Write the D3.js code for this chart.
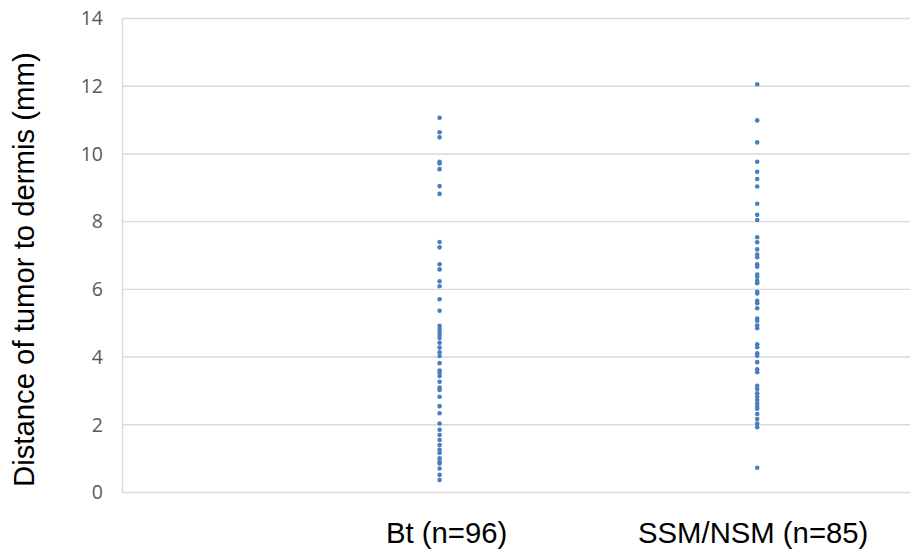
<!DOCTYPE html>
<html>
<head>
<meta charset="utf-8">
<script src="https://cdn.jsdelivr.net/npm/d3@7"></script>
<style>
  body { margin: 0; background: #fff; }
</style>
</head>
<body>
<div id="chart"></div>
<script>
// group names and labels
var groups = ["Bt", "SSM/NSM"];
var groupLabels = ["Bt (n=96)", "SSM/NSM (n=85)"];
var yTicks = [0, 2, 4, 6, 8, 10, 12, 14];

// distance of tumor to dermis (mm)
var btValues = [11.07, 10.64, 10.49, 9.77, 9.72, 9.55, 9.05, 8.82, 7.40, 7.24,
  6.74, 6.59, 6.24, 6.09, 5.71, 5.37, 4.92, 4.83, 4.74, 4.65, 4.56, 4.42, 4.28,
  4.14, 4.03, 3.82, 3.60, 3.53, 3.44, 3.27, 3.10, 3.03, 2.83, 2.55, 2.34, 2.04,
  1.85, 1.70, 1.55, 1.40, 1.26, 1.17, 1.01, 0.91, 0.86, 0.71, 0.52, 0.37];
var ssmValues = [12.06, 10.99, 10.34, 9.77, 9.47, 9.26, 9.04, 8.53, 8.20, 8.05,
  7.54, 7.39, 7.18, 7.03, 6.95, 6.74, 6.67, 6.44, 6.37, 6.25, 6.18, 5.93, 5.88,
  5.66, 5.59, 5.44, 5.14, 5.07, 4.93, 4.85, 4.38, 4.29, 4.11, 4.04, 3.85, 3.64,
  3.55, 3.15, 3.06, 2.93, 2.83, 2.73, 2.63, 2.53, 2.47, 2.32, 2.17, 2.04, 1.93, 0.73];

document.addEventListener('DOMContentLoaded', function () {
    var width = 910, height = 551;
    var svg = d3.select("#chart").append("svg")
        .attr("width", width)
        .attr("height", height);

    var x = d3.scaleLinear().domain([0, 2.5]).range([122, 916]);
    var y = d3.scaleLinear().domain([0, 14]).range([492.5, 18.5]);

    // gridlines
    svg.append("g")
        .selectAll("line")
        .data(yTicks)
        .enter()
        .append("line")
            .attr("x1", x(0))
            .attr("x2", x(2.5))
            .attr("y1", function(d) { return y(d); })
            .attr("y2", function(d) { return y(d); })
            .attr("stroke", "#d9d9d9")
            .attr("stroke-width", 1.4);

    // y axis
    var yAxis = svg.append("g")
        .attr("transform", "translate(" + x(0) + ",0)")
        .call(d3.axisLeft(y).tickValues(yTicks).tickSize(0).tickPadding(19));
    yAxis.select(".domain").attr("stroke", "#d9d9d9").attr("stroke-width", 1.4);
    yAxis.selectAll("text")
        .style("font-family", "'Open Sans', sans-serif")
        .style("font-size", "19.5px")
        .attr("fill", "#595959");

    // dots
    var series = [btValues, ssmValues];
    series.forEach(function(vals, i) {
        svg.append("g")
            .selectAll("circle")
            .data(vals)
            .enter()
            .append("circle")
                .attr("cx", x(i + 1))
                .attr("cy", function(d) { return y(d); })
                .attr("r", 2.3)
                .attr("fill", "#4a7ebf");
    });

    // category labels (not exactly centred on the dots in the original)
    var labelShift = [7, -4];
    svg.append("g")
        .selectAll("text")
        .data(groupLabels)
        .enter()
        .append("text")
            .attr("x", function(d, i) { return x(i + 1) + labelShift[i]; })
            .attr("y", 543)
            .style("text-anchor", "middle")
            .style("font-family", "'Liberation Sans', Arial, sans-serif")
            .style("font-size", "29.3px")
            .attr("fill", "#000")
            .text(function(d) { return d; });

    // y axis title
    svg.append("text")
        .attr("transform", "translate(33.5," + 269.7 + ") rotate(-90)")
        .style("text-anchor", "middle")
        .style("font-family", "'Liberation Sans', Arial, sans-serif")
        .style("font-size", "29.3px")
        .attr("fill", "#000")
        .text("Distance of tumor to dermis (mm)");
});
</script>
</body>
</html>
